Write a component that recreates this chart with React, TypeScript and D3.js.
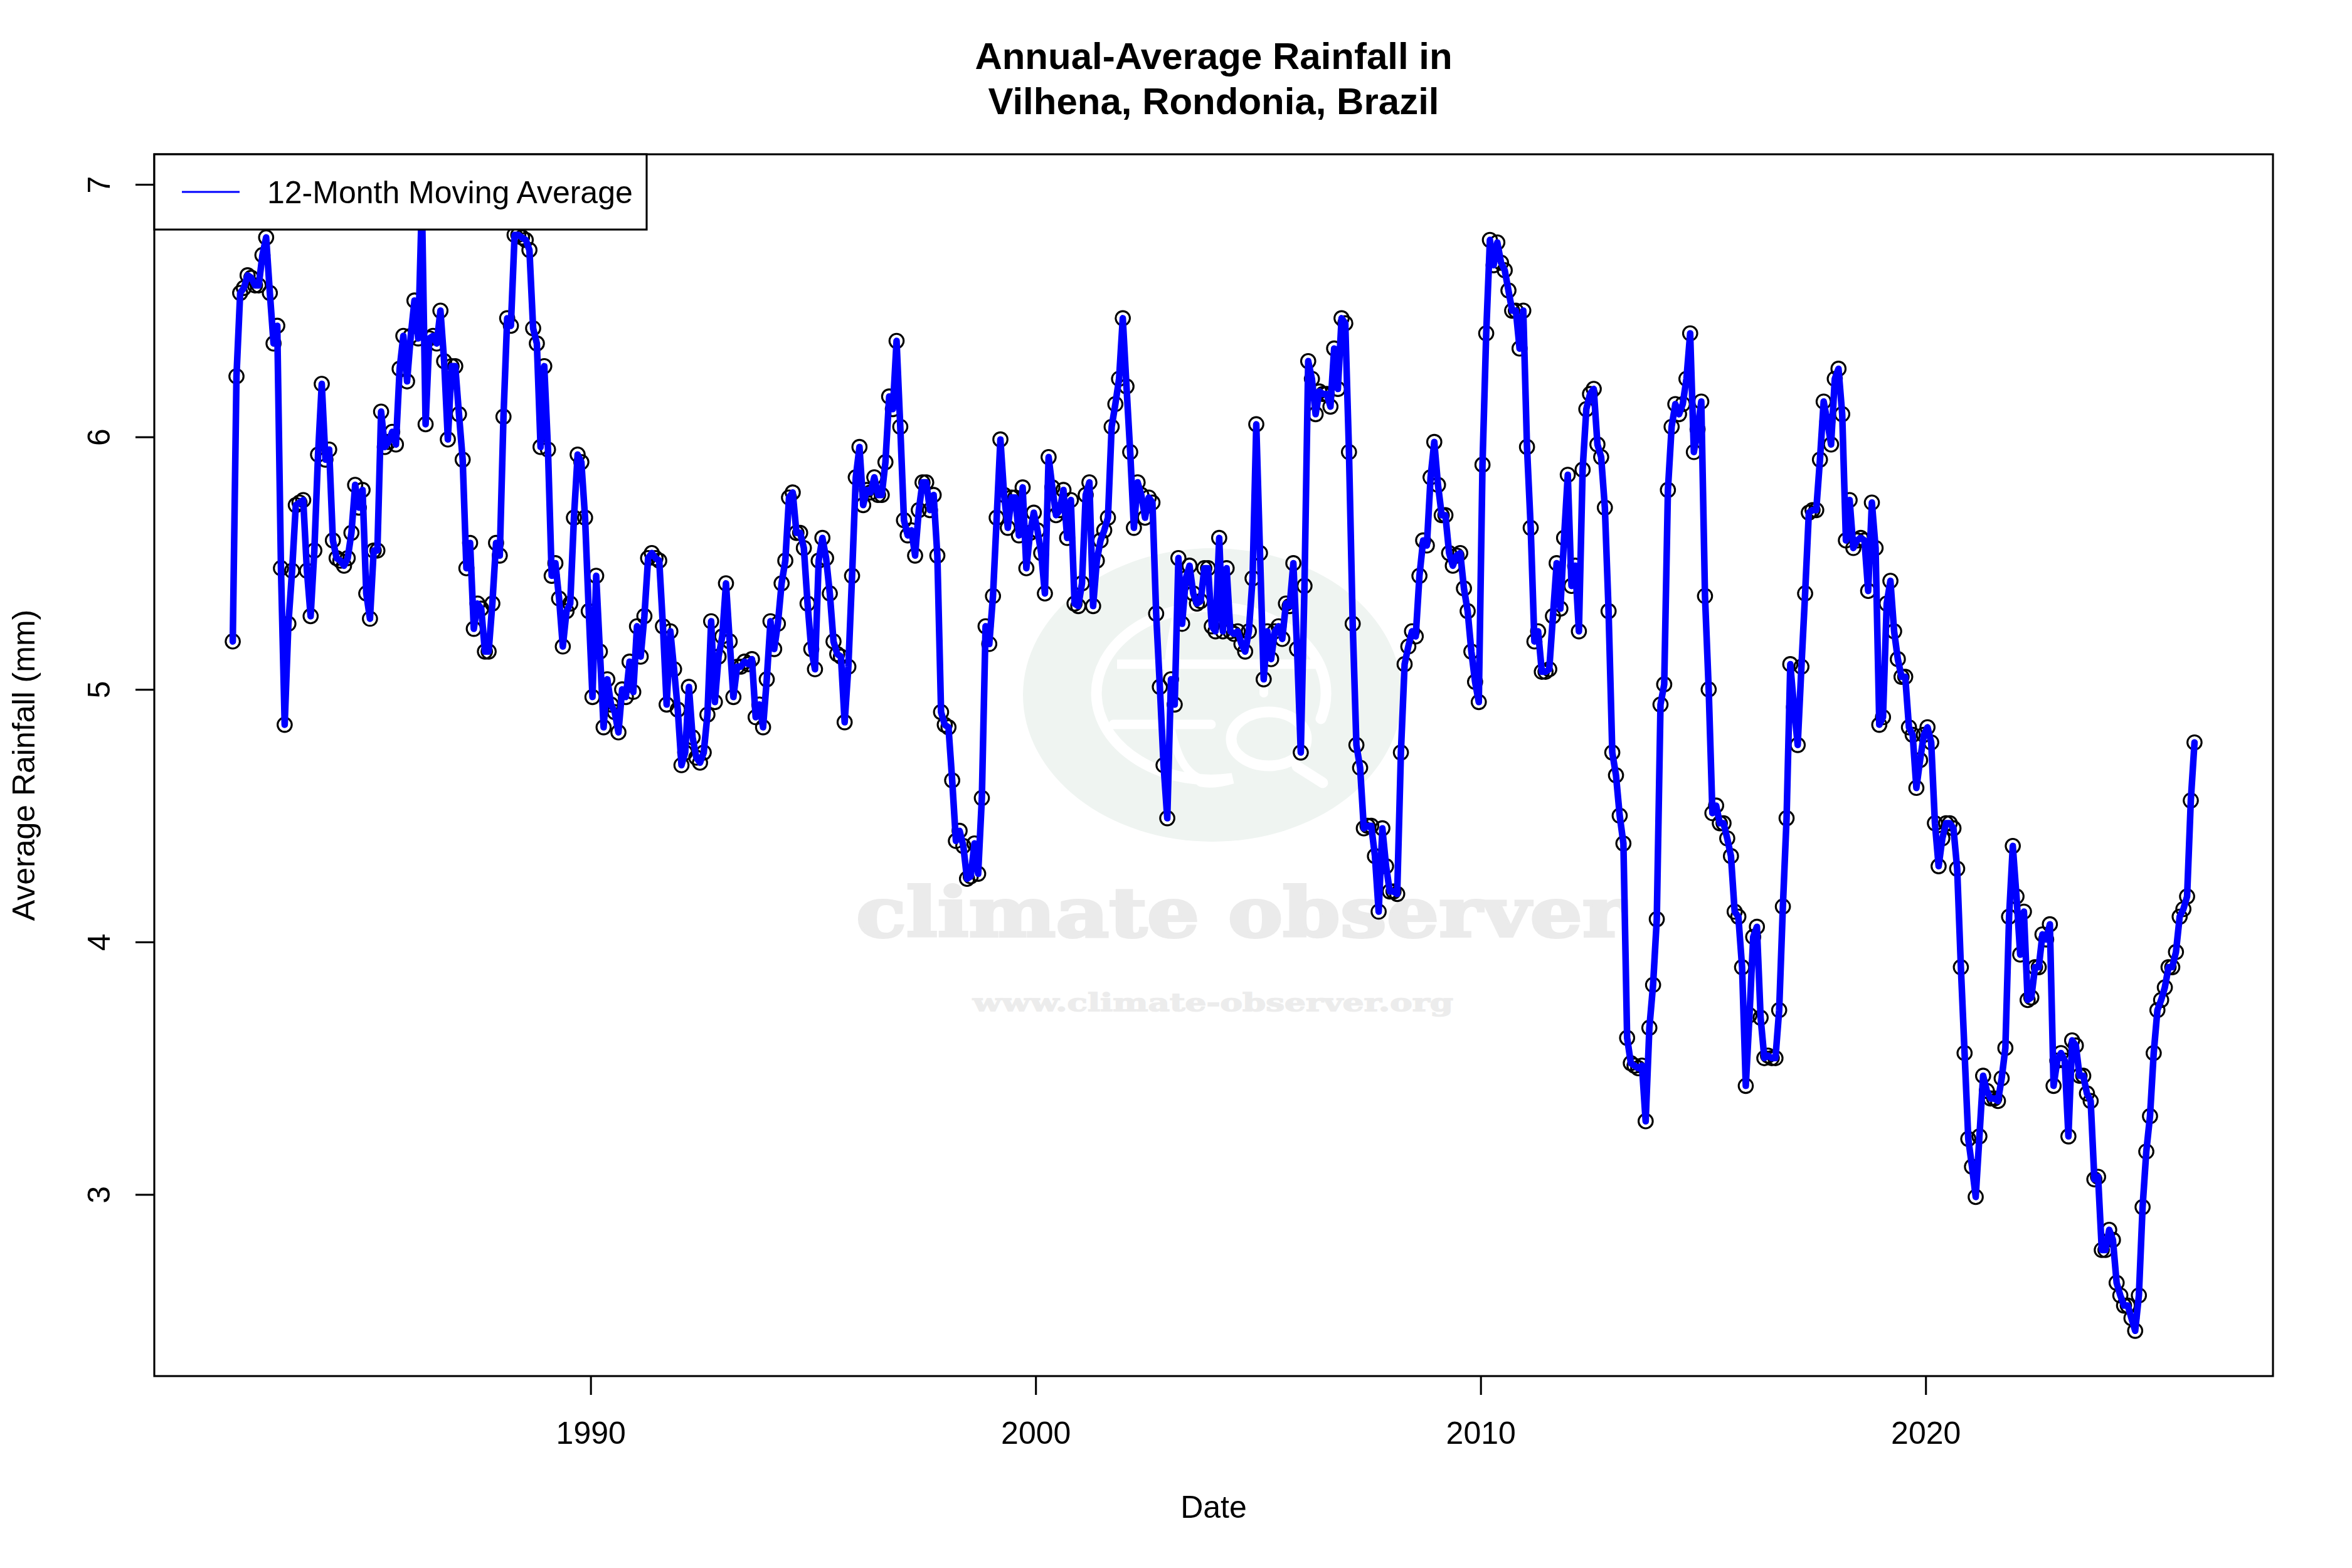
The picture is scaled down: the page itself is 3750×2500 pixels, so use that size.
import React, { useEffect, useRef } from 'react';
import * as d3 from 'd3';

// 12-month moving average, monthly from mid Dec 1981
const values1980s = [
  5.19, 6.24, 6.57, 6.59, 6.64, 6.63, 6.60, 6.60, 6.72, 6.79, 6.57, 6.37,
  6.44, 5.48, 4.86, 5.26, 5.47, 5.73, 5.74, 5.75, 5.47, 5.29, 5.55, 5.93,
  6.21, 5.91, 5.95, 5.59, 5.52, 5.51, 5.49, 5.52, 5.62, 5.81, 5.72, 5.79,
  5.38, 5.28, 5.55, 5.55, 6.10, 5.96, 5.98, 6.02, 5.97, 6.27, 6.40, 6.22,
  6.40, 6.54, 6.39, 6.94, 6.05, 6.39, 6.40, 6.37, 6.50, 6.30, 5.99, 6.28,
  6.28, 6.09, 5.91, 5.48, 5.58, 5.24, 5.34, 5.32, 5.15, 5.15, 5.34, 5.58,
  5.53, 6.08, 6.47, 6.44, 6.80, 6.80, 6.79, 6.78, 6.74, 6.43, 6.37, 5.96,
  6.28, 5.95, 5.45, 5.50, 5.36, 5.17, 5.31, 5.34, 5.68, 5.93, 5.90, 5.68,
];
const values1990s = [
  5.31, 4.97, 5.45, 5.15, 4.85, 5.04, 4.94, 4.91, 4.83, 5.00, 4.97, 5.11,
  4.99, 5.25, 5.13, 5.29, 5.52, 5.54, 5.52, 5.51, 5.25, 4.94, 5.23, 5.08,
  4.92, 4.70, 4.75, 5.01, 4.81, 4.73, 4.71, 4.75, 4.90, 5.27, 4.95, 5.13,
  5.21, 5.42, 5.19, 4.97, 5.09, 5.09, 5.11, 5.10, 5.12, 4.89, 4.94, 4.85,
  5.04, 5.27, 5.16, 5.26, 5.42, 5.51, 5.76, 5.78, 5.62, 5.62, 5.56, 5.34,
  5.16, 5.08, 5.51, 5.60, 5.52, 5.38, 5.19, 5.14, 5.13, 4.87, 5.09, 5.45,
  5.84, 5.96, 5.73, 5.79, 5.78, 5.84, 5.77, 5.77, 5.90, 6.16, 6.11, 6.38,
  6.04, 5.67, 5.61, 5.63, 5.53, 5.71, 5.82, 5.82, 5.71, 5.77, 5.53, 4.91,
  4.86, 4.85, 4.64, 4.40, 4.44, 4.38, 4.25, 4.26, 4.39, 4.27, 4.57, 5.25,
  5.18, 5.37, 5.68, 5.99, 5.77, 5.64, 5.76, 5.76, 5.61, 5.80, 5.48, 5.62,
];
const values2000s = [
  5.70, 5.63, 5.54, 5.38, 5.92, 5.80, 5.69, 5.71, 5.79, 5.60, 5.75, 5.34,
  5.33, 5.42, 5.77, 5.82, 5.33, 5.51, 5.59, 5.63, 5.68, 6.04, 6.13, 6.23,
  6.47, 6.20, 5.94, 5.64, 5.82, 5.77, 5.68, 5.76, 5.74, 5.30, 5.01, 4.70,
  4.49, 5.04, 4.94, 5.52, 5.26, 5.44, 5.49, 5.38, 5.34, 5.35, 5.48, 5.48,
  5.25, 5.23, 5.60, 5.23, 5.48, 5.23, 5.22, 5.23, 5.18, 5.15, 5.23, 5.44,
  6.05, 5.54, 5.04, 5.23, 5.12, 5.23, 5.25, 5.20, 5.34, 5.33, 5.50, 5.16,
  4.75, 5.41, 6.30, 6.23, 6.09, 6.18, 6.17, 6.17, 6.12, 6.35, 6.19, 6.47,
  6.45, 5.94, 5.26, 4.78, 4.69, 4.45, 4.46, 4.46, 4.34, 4.12, 4.45, 4.30,
  4.20, 4.20, 4.19, 4.75, 5.10, 5.17, 5.23, 5.21, 5.45, 5.59, 5.57, 5.84,
  5.98, 5.81, 5.69, 5.69, 5.54, 5.49, 5.53, 5.54, 5.40, 5.31, 5.15, 5.03,
];
const values2010s = [
  4.95, 5.89, 6.41, 6.78, 6.68, 6.77, 6.69, 6.66, 6.58, 6.50, 6.50, 6.35,
  6.50, 5.96, 5.64, 5.19, 5.23, 5.07, 5.07, 5.08, 5.29, 5.50, 5.32, 5.60,
  5.85, 5.41, 5.49, 5.23, 5.87, 6.11, 6.17, 6.19, 5.97, 5.92, 5.72, 5.31,
  4.75, 4.66, 4.50, 4.39, 3.62, 3.52, 3.51, 3.50, 3.51, 3.29, 3.66, 3.83,
  4.09, 4.94, 5.02, 5.79, 6.04, 6.13, 6.09, 6.13, 6.23, 6.41, 5.94, 6.03,
  6.14, 5.37, 5.00, 4.51, 4.54, 4.47, 4.47, 4.41, 4.34, 4.12, 4.10, 3.90,
  3.43, 3.71, 4.02, 4.06, 3.70, 3.54, 3.55, 3.54, 3.54, 3.73, 4.14, 4.49,
  5.10, 4.93, 4.78, 5.09, 5.38, 5.70, 5.71, 5.71, 5.91, 6.14, 6.06, 5.97,
  6.23, 6.27, 6.09, 5.59, 5.75, 5.56, 5.59, 5.60, 5.59, 5.39, 5.74, 5.56,
  4.86, 4.89, 5.34, 5.43, 5.23, 5.12, 5.05, 5.05, 4.85, 4.82, 4.61, 4.72,
];
const values2020s = [
  4.82, 4.85, 4.79, 4.47, 4.30, 4.41, 4.47, 4.47, 4.45, 4.29, 3.90, 3.56,
  3.22, 3.11, 2.99, 3.23, 3.47, 3.41, 3.38, 3.38, 3.37, 3.46, 3.58, 4.10,
  4.38, 4.18, 3.95, 4.12, 3.77, 3.78, 3.90, 3.90, 4.03, 4.01, 4.07, 3.43,
  3.53, 3.56, 3.53, 3.23, 3.61, 3.59, 3.47, 3.47, 3.40, 3.37, 3.06, 3.07,
  2.78, 2.78, 2.86, 2.82, 2.65, 2.60, 2.56, 2.56, 2.51, 2.46, 2.60, 2.95,
  3.17, 3.31, 3.56, 3.73, 3.77, 3.82, 3.90, 3.90, 3.96, 4.10, 4.13, 4.18,
  4.56, 4.79,
];

const startYear = 1981 + 11.5 / 12;
const xTicks = [1990, 2000, 2010, 2020];
const yTicks = [3, 4, 5, 6, 7];
const titleLines = ['Annual-Average Rainfall in', 'Vilhena, Rondonia, Brazil'];

const rainfall = [...values1980s, ...values1990s, ...values2000s, ...values2010s, ...values2020s];
const series = rainfall.map((value, i) => ({ year: startYear + i / 12, value }));

const width = 3750;
const height = 2500;
const plot = { left: 246, right: 3624, top: 246, bottom: 2194 };
const FONT = '"Liberation Sans", Arimo, Helvetica, sans-serif';
const SERIF = '"DejaVu Serif", serif';

// R style axis range: 4% beyond the data on both sides
const padded = (lo: number, hi: number): [number, number] => {
  const pad = (hi - lo) * 0.04;
  return [lo - pad, hi + pad];
};

const Watermark = () => (
  <g>
    <ellipse cx={1933} cy={1108} rx={302} ry={234} fill="#eff4f1" />
    <g fill="none" stroke="#ffffff" strokeWidth={17} strokeLinecap="round">
      <path d="M 2106 1146 A 183 138 0 1 0 1965 1241 Q 1935 1250 1915 1246" />
      <path d="M 1781 1059 L 2097 1059" strokeLinecap="butt" strokeWidth={15} />
      <path d="M 1775 1155 L 1931 1155" strokeWidth={15} />
      <path d="M 1875 985 Q 1845 1120 1880 1205 Q 1895 1238 1920 1243" strokeWidth={13} />
      <path d="M 2015 1065 L 2015 1105" strokeWidth={14} />
      <ellipse cx={2023} cy={1178} rx={60} ry={43} />
      <path d="M 2068 1222 L 2109 1248" />
    </g>
    <text x={1365} y={1493} fontFamily={SERIF} fontWeight="bold" fontSize={108} fill="#ebebeb"
      stroke="#ebebeb" strokeWidth={4} textLength={1227} lengthAdjust="spacingAndGlyphs">climate observer</text>
    <text x={1551} y={1612} fontFamily={SERIF} fontWeight="bold" fontSize={39} fill="#ececec"
      stroke="#ececec" strokeWidth={1.5} textLength={766} lengthAdjust="spacingAndGlyphs">www.climate-observer.org</text>
  </g>
);

export default function App() {
  const svgRef = useRef<SVGSVGElement>(null);

  useEffect(() => {
    if (!svgRef.current) return;
    const svg = d3.select(svgRef.current);
    svg.selectAll('.chart').remove();
    const g = svg.append('g').attr('class', 'chart');

    const x = d3.scaleLinear()
      .domain(padded(d3.min(series, d => d.year)!, d3.max(series, d => d.year)!))
      .range([plot.left, plot.right]);
    const y = d3.scaleLinear()
      .domain(padded(d3.min(rainfall)!, d3.max(rainfall)!))
      .range([plot.bottom, plot.top]);

    // points: white centres first, then open black rings over them
    g.append('g').selectAll('circle').data(series).enter().append('circle')
      .attr('cx', d => x(d.year)).attr('cy', d => y(d.value)).attr('r', 11.3)
      .attr('fill', '#ffffff');
    g.append('g').selectAll('circle').data(series).enter().append('circle')
      .attr('cx', d => x(d.year)).attr('cy', d => y(d.value)).attr('r', 11.3)
      .attr('fill', 'none').attr('stroke', '#000').attr('stroke-width', 3.1);

    const line = d3.line<{ year: number; value: number }>().x(d => x(d.year)).y(d => y(d.value));
    g.append('path').datum(series).attr('d', line)
      .attr('fill', 'none').attr('stroke', '#0000ff').attr('stroke-width', 10.5)
      .attr('stroke-linejoin', 'round').attr('stroke-linecap', 'round');

    // box
    g.append('rect')
      .attr('x', plot.left).attr('y', plot.top)
      .attr('width', plot.right - plot.left).attr('height', plot.bottom - plot.top)
      .attr('fill', 'none').attr('stroke', '#000').attr('stroke-width', 3.1);

    // axes
    const xAxis = g.append('g').attr('transform', `translate(0,${plot.bottom})`)
      .call(d3.axisBottom(x).tickValues(xTicks).tickFormat(d3.format('d')).tickSize(30).tickSizeOuter(0));
    const yAxis = g.append('g').attr('transform', `translate(${plot.left},0)`)
      .call(d3.axisLeft(y).tickValues(yTicks).tickFormat(d3.format('d')).tickSize(30).tickSizeOuter(0));
    xAxis.select('.domain').remove();
    yAxis.select('.domain').remove();
    [xAxis, yAxis].forEach(a => {
      a.selectAll('line').attr('stroke', '#000').attr('stroke-width', 3.1);
      a.selectAll('text').attr('font-family', FONT).attr('font-size', 50).attr('fill', '#000');
    });
    xAxis.selectAll('text').attr('y', 108).attr('dy', 0).attr('text-anchor', 'middle');
    yAxis.selectAll('text')
      .attr('x', 0).attr('dy', 0).attr('y', 0)
      .attr('text-anchor', 'middle')
      .attr('transform', `translate(-71,0) rotate(-90)`);

    // legend
    const legend = g.append('g');
    legend.append('rect')
      .attr('x', plot.left).attr('y', plot.top).attr('width', 785).attr('height', 120)
      .attr('fill', '#ffffff').attr('stroke', '#000').attr('stroke-width', 3.1);
    legend.append('line')
      .attr('x1', 290).attr('x2', 382).attr('y1', 306).attr('y2', 306)
      .attr('stroke', '#0000ff').attr('stroke-width', 3.1);
    legend.append('text')
      .attr('x', 426).attr('y', 324)
      .attr('font-family', FONT).attr('font-size', 50).attr('fill', '#000')
      .text('12-Month Moving Average');

    // titles and axis labels
    const cx = (plot.left + plot.right) / 2;
    g.selectAll('.title').data(titleLines).enter().append('text')
      .attr('class', 'title')
      .attr('x', cx).attr('y', (_, i) => 110 + i * 72)
      .attr('text-anchor', 'middle')
      .attr('font-family', FONT).attr('font-size', 60).attr('font-weight', 'bold').attr('fill', '#000')
      .text(d => d);
    g.append('text').attr('x', cx).attr('y', 2420).attr('text-anchor', 'middle')
      .attr('font-family', FONT).attr('font-size', 50).attr('fill', '#000').text('Date');
    g.append('text')
      .attr('transform', `translate(55,${(plot.top + plot.bottom) / 2}) rotate(-90)`)
      .attr('text-anchor', 'middle')
      .attr('font-family', FONT).attr('font-size', 50).attr('fill', '#000').text('Average Rainfall (mm)');
  }, []);

  return (
    <svg ref={svgRef} width={width} height={height} viewBox={`0 0 ${width} ${height}`}
      style={{ position: 'absolute', left: 0, top: 0, background: '#fff' }}>
      <Watermark />
    </svg>
  );
}
